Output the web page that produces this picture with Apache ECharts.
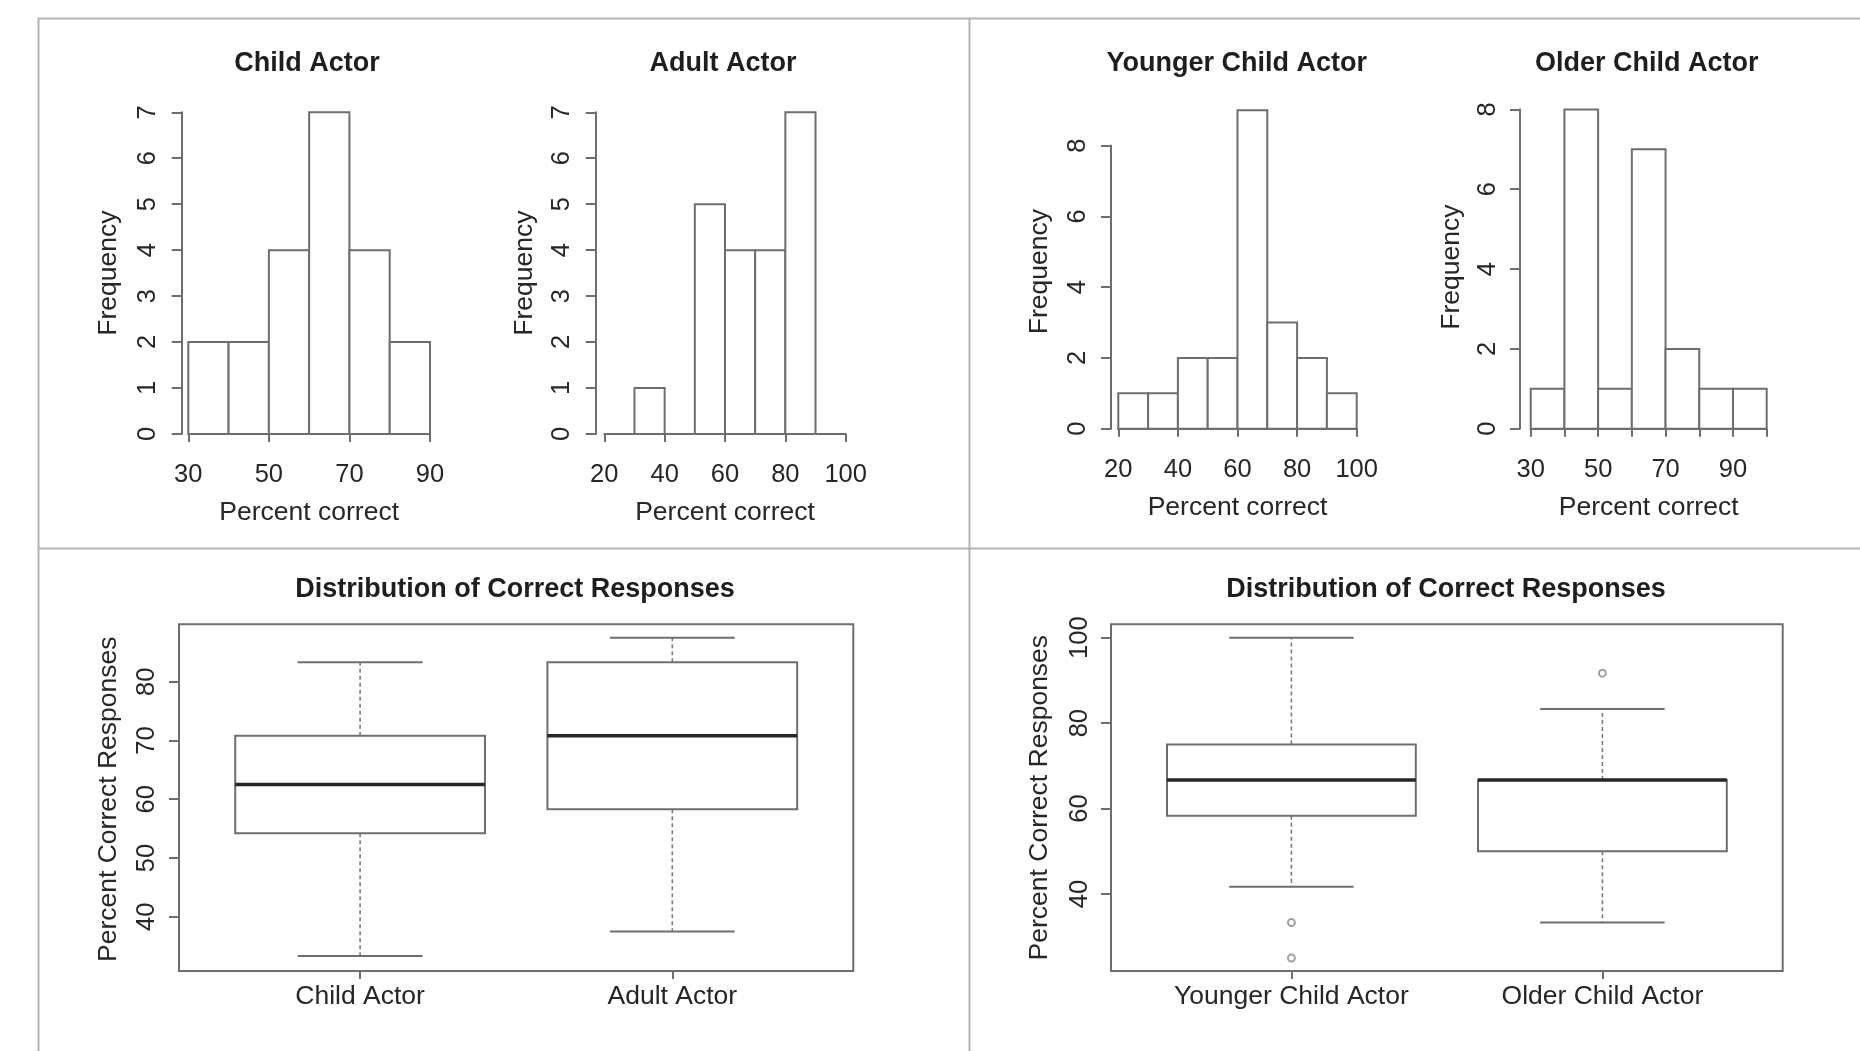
<!DOCTYPE html>
<html>
<head>
<meta charset="utf-8">
<script src="https://cdn.jsdelivr.net/npm/echarts@6/dist/echarts.min.js"></script>
<style>
html, body { margin: 0; padding: 0; background: #ffffff; }
#chart { width: 1860px; height: 1051px; }
</style>
</head>
<body>
<div id="chart"></div>
<script>
// ---------------- data ----------------
const childBreaks = [30, 40, 50, 60, 70, 80, 90];
const childCounts = [2, 2, 4, 7, 4, 2];
const adultBreaks = [30, 40, 50, 60, 70, 80, 90];
const adultCounts = [1, 0, 5, 4, 4, 7];
const youngerBreaks = [20, 30, 40, 50, 60, 70, 80, 90, 100];
const youngerCounts = [1, 1, 2, 2, 9, 3, 2, 1];
const olderBreaks = [30, 40, 50, 60, 70, 80, 90, 100];
const olderCounts = [1, 8, 1, 7, 2, 1, 1];

const childXTicks = [30, 50, 70, 90];
const adultXTicks = [20, 40, 60, 80, 100];
const youngerXTicks = [20, 40, 60, 80, 100];
const olderXTicks = [30, 40, 50, 60, 70, 80, 90, 100];
const olderXLabels = [30, 50, 70, 90];

const ageGroups = ['Child Actor', 'Adult Actor'];
// [lower whisker, Q1, median, Q3, upper whisker]
const ageStats = [[33.3, 54.2, 62.5, 70.8, 83.3], [37.5, 58.3, 70.8, 83.3, 87.5]];
const childGroups = ['Younger Child Actor', 'Older Child Actor'];
const childStats = [[41.7, 58.3, 66.7, 75.0, 100], [33.3, 50.0, 66.7, 66.7, 83.3]];
const childOutliers = [[0, 33.3], [0, 25.0], [1, 91.7]];

// ---------------- style ----------------
const FONT = 'Liberation Sans, Arial, Helvetica, sans-serif';
const LINE = '#6e6e6e';
const TEXT = '#262626';
const LW = 2;
const TICK_FS = 25.5;
const NAME_FS = 26.5;
const TITLE_FS = 27;

const grids = [], xAxes = [], yAxes = [], series = [], titles = [];

function addTitle(text, x, y) {
  titles.push({
    text: text, left: x, top: y, padding: 0,
    textAlign: 'center', textVerticalAlign: 'middle',
    textStyle: { fontFamily: FONT, fontSize: TITLE_FS, fontWeight: 'bold', color: '#1e1e1e' }
  });
}

function histPanel(p) {
  const gi = grids.length;
  grids.push({ left: p.left, top: p.top, width: p.width, height: p.height, outerBoundsMode: 'none', containLabel: false });
  xAxes.push({
    gridIndex: gi, type: 'value', min: p.xMin, max: p.xMax, offset: p.xOffset,
    axisLine: { show: true, lineStyle: { color: LINE, width: LW } },
    axisTick: { show: true, length: 8, lineStyle: { color: LINE, width: LW }, customValues: p.xTicks },
    axisLabel: { show: true, fontFamily: FONT, fontSize: TICK_FS, color: TEXT, margin: p.xLabelMargin, customValues: p.xLabels },
    splitLine: { show: false },
    name: 'Percent correct', nameLocation: 'middle', nameGap: p.xNameGap, nameMoveOverlap: false,
    nameTextStyle: { fontFamily: FONT, fontSize: NAME_FS, color: TEXT }
  });
  yAxes.push({
    gridIndex: gi, type: 'value', min: 0, max: p.yMax, interval: p.yInterval, offset: p.yOffset,
    axisLine: { show: true, lineStyle: { color: LINE, width: LW } },
    axisTick: { show: true, length: 10, lineStyle: { color: LINE, width: LW } },
    axisLabel: { show: true, rotate: 90, fontFamily: FONT, fontSize: TICK_FS, color: TEXT, margin: p.yLabelMargin },
    splitLine: { show: false },
    name: 'Frequency', nameLocation: 'middle', nameRotate: 90, nameGap: p.yNameGap, nameMoveOverlap: false,
    nameTextStyle: { fontFamily: FONT, fontSize: NAME_FS, color: TEXT, padding: p.yNamePad || 0 }
  });
  const data = p.counts.map((c, k) => [p.breaks[k], p.breaks[k + 1], c]);
  series.push({
    type: 'custom', xAxisIndex: gi, yAxisIndex: gi, clip: false, silent: true,
    encode: { x: [0, 1], y: 2 },
    data: data,
    renderItem: function (params, api) {
      const a = api.coord([api.value(0), 0]);
      const b = api.coord([api.value(1), api.value(2)]);
      return {
        type: 'rect',
        shape: { x: a[0], y: b[1], width: b[0] - a[0], height: a[1] - b[1] },
        style: { fill: '#ffffff', stroke: LINE, lineWidth: LW }
      };
    }
  });
  addTitle(p.title, p.titleX, p.titleY);
}

function boxPanel(p) {
  // frame grid
  const fi = grids.length;
  grids.push({ left: p.frame[0], top: p.frame[1], width: p.frame[2], height: p.frame[3], show: true,
    borderColor: LINE, borderWidth: LW, backgroundColor: 'transparent', outerBoundsMode: 'none', containLabel: false });
  xAxes.push({ gridIndex: fi, type: 'value', show: false, min: 0, max: 1 });
  yAxes.push({ gridIndex: fi, type: 'value', show: false, min: 0, max: 1 });
  // data grid
  const gi = grids.length;
  grids.push({ left: p.left, top: p.top, width: p.width, height: p.height, outerBoundsMode: 'none', containLabel: false });
  xAxes.push({
    gridIndex: gi, type: 'category', data: p.groups, boundaryGap: true, offset: p.xOffset,
    axisLine: { show: false },
    axisTick: { show: true, alignWithLabel: true, length: 8, lineStyle: { color: LINE, width: LW } },
    axisLabel: { show: true, interval: 0, fontFamily: FONT, fontSize: NAME_FS, color: TEXT, margin: p.xLabelMargin },
    splitLine: { show: false }
  });
  yAxes.push({
    gridIndex: gi, type: 'value', min: p.yMin, max: p.yMax, interval: p.yInterval, offset: p.yOffset,
    axisLine: { show: false },
    axisTick: { show: true, length: 10, lineStyle: { color: LINE, width: LW } },
    axisLabel: { show: true, rotate: 90, fontFamily: FONT, fontSize: TICK_FS, color: TEXT, margin: p.yLabelMargin },
    splitLine: { show: false },
    name: 'Percent Correct Responses', nameLocation: 'middle', nameRotate: 90, nameGap: p.yNameGap, nameMoveOverlap: false,
    nameTextStyle: { fontFamily: FONT, fontSize: NAME_FS, color: TEXT, padding: p.yNamePad || 0 }
  });
  const data = p.stats.map((s, k) => [k].concat(s));
  series.push({
    type: 'custom', xAxisIndex: gi, yAxisIndex: gi, clip: false, silent: true,
    encode: { x: 0, y: [1, 2, 3, 4, 5] },
    data: data,
    renderItem: function (params, api) {
      const cat = api.value(0);
      const band = api.size([1, 0])[0];
      const half = band * 0.4;
      const lo = api.coord([cat, api.value(1)]);
      const q1 = api.coord([cat, api.value(2)]);
      const med = api.coord([cat, api.value(3)]);
      const q3 = api.coord([cat, api.value(4)]);
      const hi = api.coord([cat, api.value(5)]);
      const x = lo[0];
      const whisk = { stroke: '#7a7a7a', lineWidth: 1.6, lineDash: [4, 3] };
      const solid = { stroke: LINE, lineWidth: LW };
      return {
        type: 'group',
        children: [
          { type: 'line', shape: { x1: x, y1: q3[1], x2: x, y2: hi[1] }, style: whisk },
          { type: 'line', shape: { x1: x, y1: q1[1], x2: x, y2: lo[1] }, style: whisk },
          { type: 'line', shape: { x1: x - half / 2, y1: hi[1], x2: x + half / 2, y2: hi[1] }, style: solid },
          { type: 'line', shape: { x1: x - half / 2, y1: lo[1], x2: x + half / 2, y2: lo[1] }, style: solid },
          { type: 'rect', shape: { x: x - half, y: q3[1], width: 2 * half, height: q1[1] - q3[1] },
            style: { fill: '#ffffff', stroke: LINE, lineWidth: LW } },
          { type: 'line', shape: { x1: x - half, y1: med[1], x2: x + half, y2: med[1] },
            style: { stroke: '#262626', lineWidth: 3.5 } }
        ]
      };
    }
  });
  if (p.outliers) {
    series.push({
      type: 'scatter', xAxisIndex: gi, yAxisIndex: gi, clip: false, silent: true,
      symbol: 'emptyCircle', symbolSize: 7,
      itemStyle: { color: '#8a8a8a', borderColor: '#8a8a8a', borderWidth: 1.5 },
      data: p.outliers
    });
  }
  addTitle(p.title, p.titleX, p.titleY);
}

histPanel({ title: 'Child Actor', titleX: 307, titleY: 63.4,
  left: 188.3, top: 112.3, width: 241.7, height: 321.6, xOffset: 13.1, yOffset: 6.6,
  xMin: 30, xMax: 90, xTicks: childXTicks, xLabels: childXTicks, yMax: 7, yInterval: 1,
  breaks: childBreaks, counts: childCounts,
  xLabelMargin: 14.5, xNameGap: 52.4, yLabelMargin: 21, yNameGap: 60 });
histPanel({ title: 'Adult Actor', titleX: 723, titleY: 63.4,
  left: 604.3, top: 112.3, width: 241.4, height: 321.6, xOffset: 13.1, yOffset: 8.6,
  xMin: 20, xMax: 100, xTicks: adultXTicks, xLabels: adultXTicks, yMax: 7, yInterval: 1,
  breaks: adultBreaks, counts: adultCounts,
  xLabelMargin: 14.5, xNameGap: 52.4, yLabelMargin: 21, yNameGap: 58 });
histPanel({ title: 'Younger Child Actor', titleX: 1236.7, titleY: 63.4,
  left: 1118.3, top: 145.6, width: 238.4, height: 283.1, xOffset: 14, yOffset: 7.3,
  xMin: 20, xMax: 100, xTicks: youngerXTicks, xLabels: youngerXTicks, yMax: 8, yInterval: 2,
  breaks: youngerBreaks, counts: youngerCounts,
  xLabelMargin: 14.5, xNameGap: 51.5, yLabelMargin: 20, yNameGap: 58, yNamePad: [0, 0, 0, 31] });
histPanel({ title: 'Older Child Actor', titleX: 1646.7, titleY: 63.4,
  left: 1530.7, top: 109.4, width: 236, height: 319.3, xOffset: 14, yOffset: 10.7,
  xMin: 30, xMax: 100, xTicks: olderXTicks, xLabels: olderXLabels, yMax: 8, yInterval: 2,
  breaks: olderBreaks, counts: olderCounts,
  xLabelMargin: 14.5, xNameGap: 51.5, yLabelMargin: 19, yNameGap: 55, yNamePad: [0, 0, 0, 4] });

boxPanel({ title: 'Distribution of Correct Responses', titleX: 515, titleY: 589.4,
  frame: [179, 624.3, 674.3, 346.7],
  left: 204, top: 681.7, width: 624.4, height: 235, xOffset: 54.3, yOffset: 25,
  yMin: 40, yMax: 80, yInterval: 10, groups: ageGroups, stats: ageStats,
  xLabelMargin: 12.5, yLabelMargin: 19, yNameGap: 57 });
boxPanel({ title: 'Distribution of Correct Responses', titleX: 1446, titleY: 589.4,
  frame: [1111, 624.3, 671.7, 346.7],
  left: 1135.9, top: 637.7, width: 622, height: 256.3, xOffset: 77, yOffset: 24.9,
  yMin: 40, yMax: 100, yInterval: 20, groups: childGroups, stats: childStats, outliers: childOutliers,
  xLabelMargin: 12.5, yLabelMargin: 18, yNameGap: 58, yNamePad: [0, 63.6, 0, 0] });

// table frame lines around the four panels
const TABLE = '#b4b4b4';
const tableLines = [
  [38, 18.5, 1860, 18.5],
  [38.5, 18, 38.5, 1051],
  [38, 548.5, 1860, 548.5],
  [969.5, 18, 969.5, 1051]
];

const chart = echarts.init(document.getElementById('chart'), null, { renderer: 'canvas' });
chart.setOption({
  backgroundColor: '#ffffff',
  animation: false,
  textStyle: { fontFamily: FONT },
  title: titles,
  grid: grids,
  xAxis: xAxes,
  yAxis: yAxes,
  series: series,
  graphic: tableLines.map(l => ({
    type: 'line', silent: true, z: -10,
    shape: { x1: l[0], y1: l[1], x2: l[2], y2: l[3] },
    style: { stroke: TABLE, lineWidth: 2 }
  }))
});
</script>
</body>
</html>
